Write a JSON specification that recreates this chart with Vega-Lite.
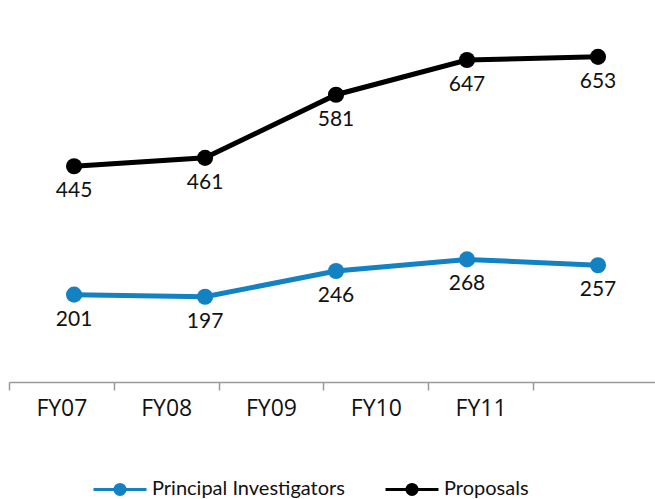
{
  "$schema": "https://vega.github.io/schema/vega-lite/v6.json",
  "width": 646,
  "height": 382,
  "autosize": {"type": "none"},
  "padding": {"left": 9, "top": 0, "right": 0, "bottom": 117},
  "background": "white",
  "config": {"view": {"stroke": null}},
  "data": {
    "values": [
      {"year": "FY07", "series": "Principal Investigators", "value": 201},
      {"year": "FY08", "series": "Principal Investigators", "value": 197},
      {"year": "FY09", "series": "Principal Investigators", "value": 246},
      {"year": "FY10", "series": "Principal Investigators", "value": 268},
      {"year": "FY11", "series": "Principal Investigators", "value": 257},
      {"year": "FY07", "series": "Proposals", "value": 445},
      {"year": "FY08", "series": "Proposals", "value": 461},
      {"year": "FY09", "series": "Proposals", "value": 581},
      {"year": "FY10", "series": "Proposals", "value": 647},
      {"year": "FY11", "series": "Proposals", "value": 653}
    ]
  },
  "resolve": {"scale": {"x": "independent"}, "axis": {"x": "independent"}},
  "layer": [
    {
      "mark": {"type": "bar", "opacity": 0},
      "encoding": {
        "x": {
          "field": "year",
          "type": "nominal",
          "sort": ["FY07", "FY08", "FY09", "FY10", "FY11"],
          "scale": {"type": "band", "paddingInner": 0, "paddingOuter": 0.582, "align": 0},
          "axis": {
            "title": null,
            "orient": "bottom",
            "tickBand": "extent",
            "domainColor": "#9a9a9a",
            "domainWidth": 1.5,
            "tickColor": "#9a9a9a",
            "tickWidth": 1.5,
            "tickSize": 8,
            "labelAngle": 0,
            "labelFont": "Open Sans",
            "labelFontSize": 23,
            "labelColor": "#111111",
            "labelPadding": 7,
            "grid": false
          }
        }
      }
    },
    {
      "encoding": {
        "x": {
          "field": "year",
          "type": "ordinal",
          "sort": ["FY07", "FY08", "FY09", "FY10", "FY11"],
          "scale": {"type": "point", "padding": 0.466, "align": 0.533},
          "axis": null
        },
        "y": {
          "field": "value",
          "type": "quantitative",
          "scale": {"domain": [35, 761], "zero": false, "nice": false},
          "axis": null
        },
        "color": {
          "field": "series",
          "type": "nominal",
          "scale": {"domain": ["Principal Investigators", "Proposals"], "range": ["#1282c3", "#000000"]},
          "legend": {
            "title": null,
            "orient": "none",
            "legendX": 83,
            "legendY": 461,
            "direction": "horizontal",
            "symbolType": "M-1,0H1M-0.19,0A0.19,0.19 0 1,1 0.19,0A0.19,0.19 0 1,1 -0.19,0Z",
            "symbolSize": 2809,
            "symbolStrokeWidth": 3,
            "labelFont": "Lato",
            "labelFontSize": 20,
            "labelColor": "#111111",
            "labelOffset": 4,
            "labelLimit": 400,
            "columnPadding": 34,
            "encode": {
              "symbols": {
                "update": {
                  "stroke": {"scale": "color", "field": "value"},
                  "strokeWidth": {"value": 3},
                  "fill": {"scale": "color", "field": "value"},
                  "opacity": {"value": 1}
                }
              }
            }
          }
        }
      },
      "layer": [
        {"mark": {"type": "line", "strokeWidth": 5}},
        {"mark": {"type": "point", "filled": true, "size": 260, "opacity": 1}},
        {
          "mark": {"type": "text", "dy": 25, "font": "Lato", "fontSize": 21, "color": "#111111"},
          "encoding": {"text": {"field": "value", "type": "quantitative"}, "color": {"value": "#111111"}}
        }
      ]
    }
  ]
}
